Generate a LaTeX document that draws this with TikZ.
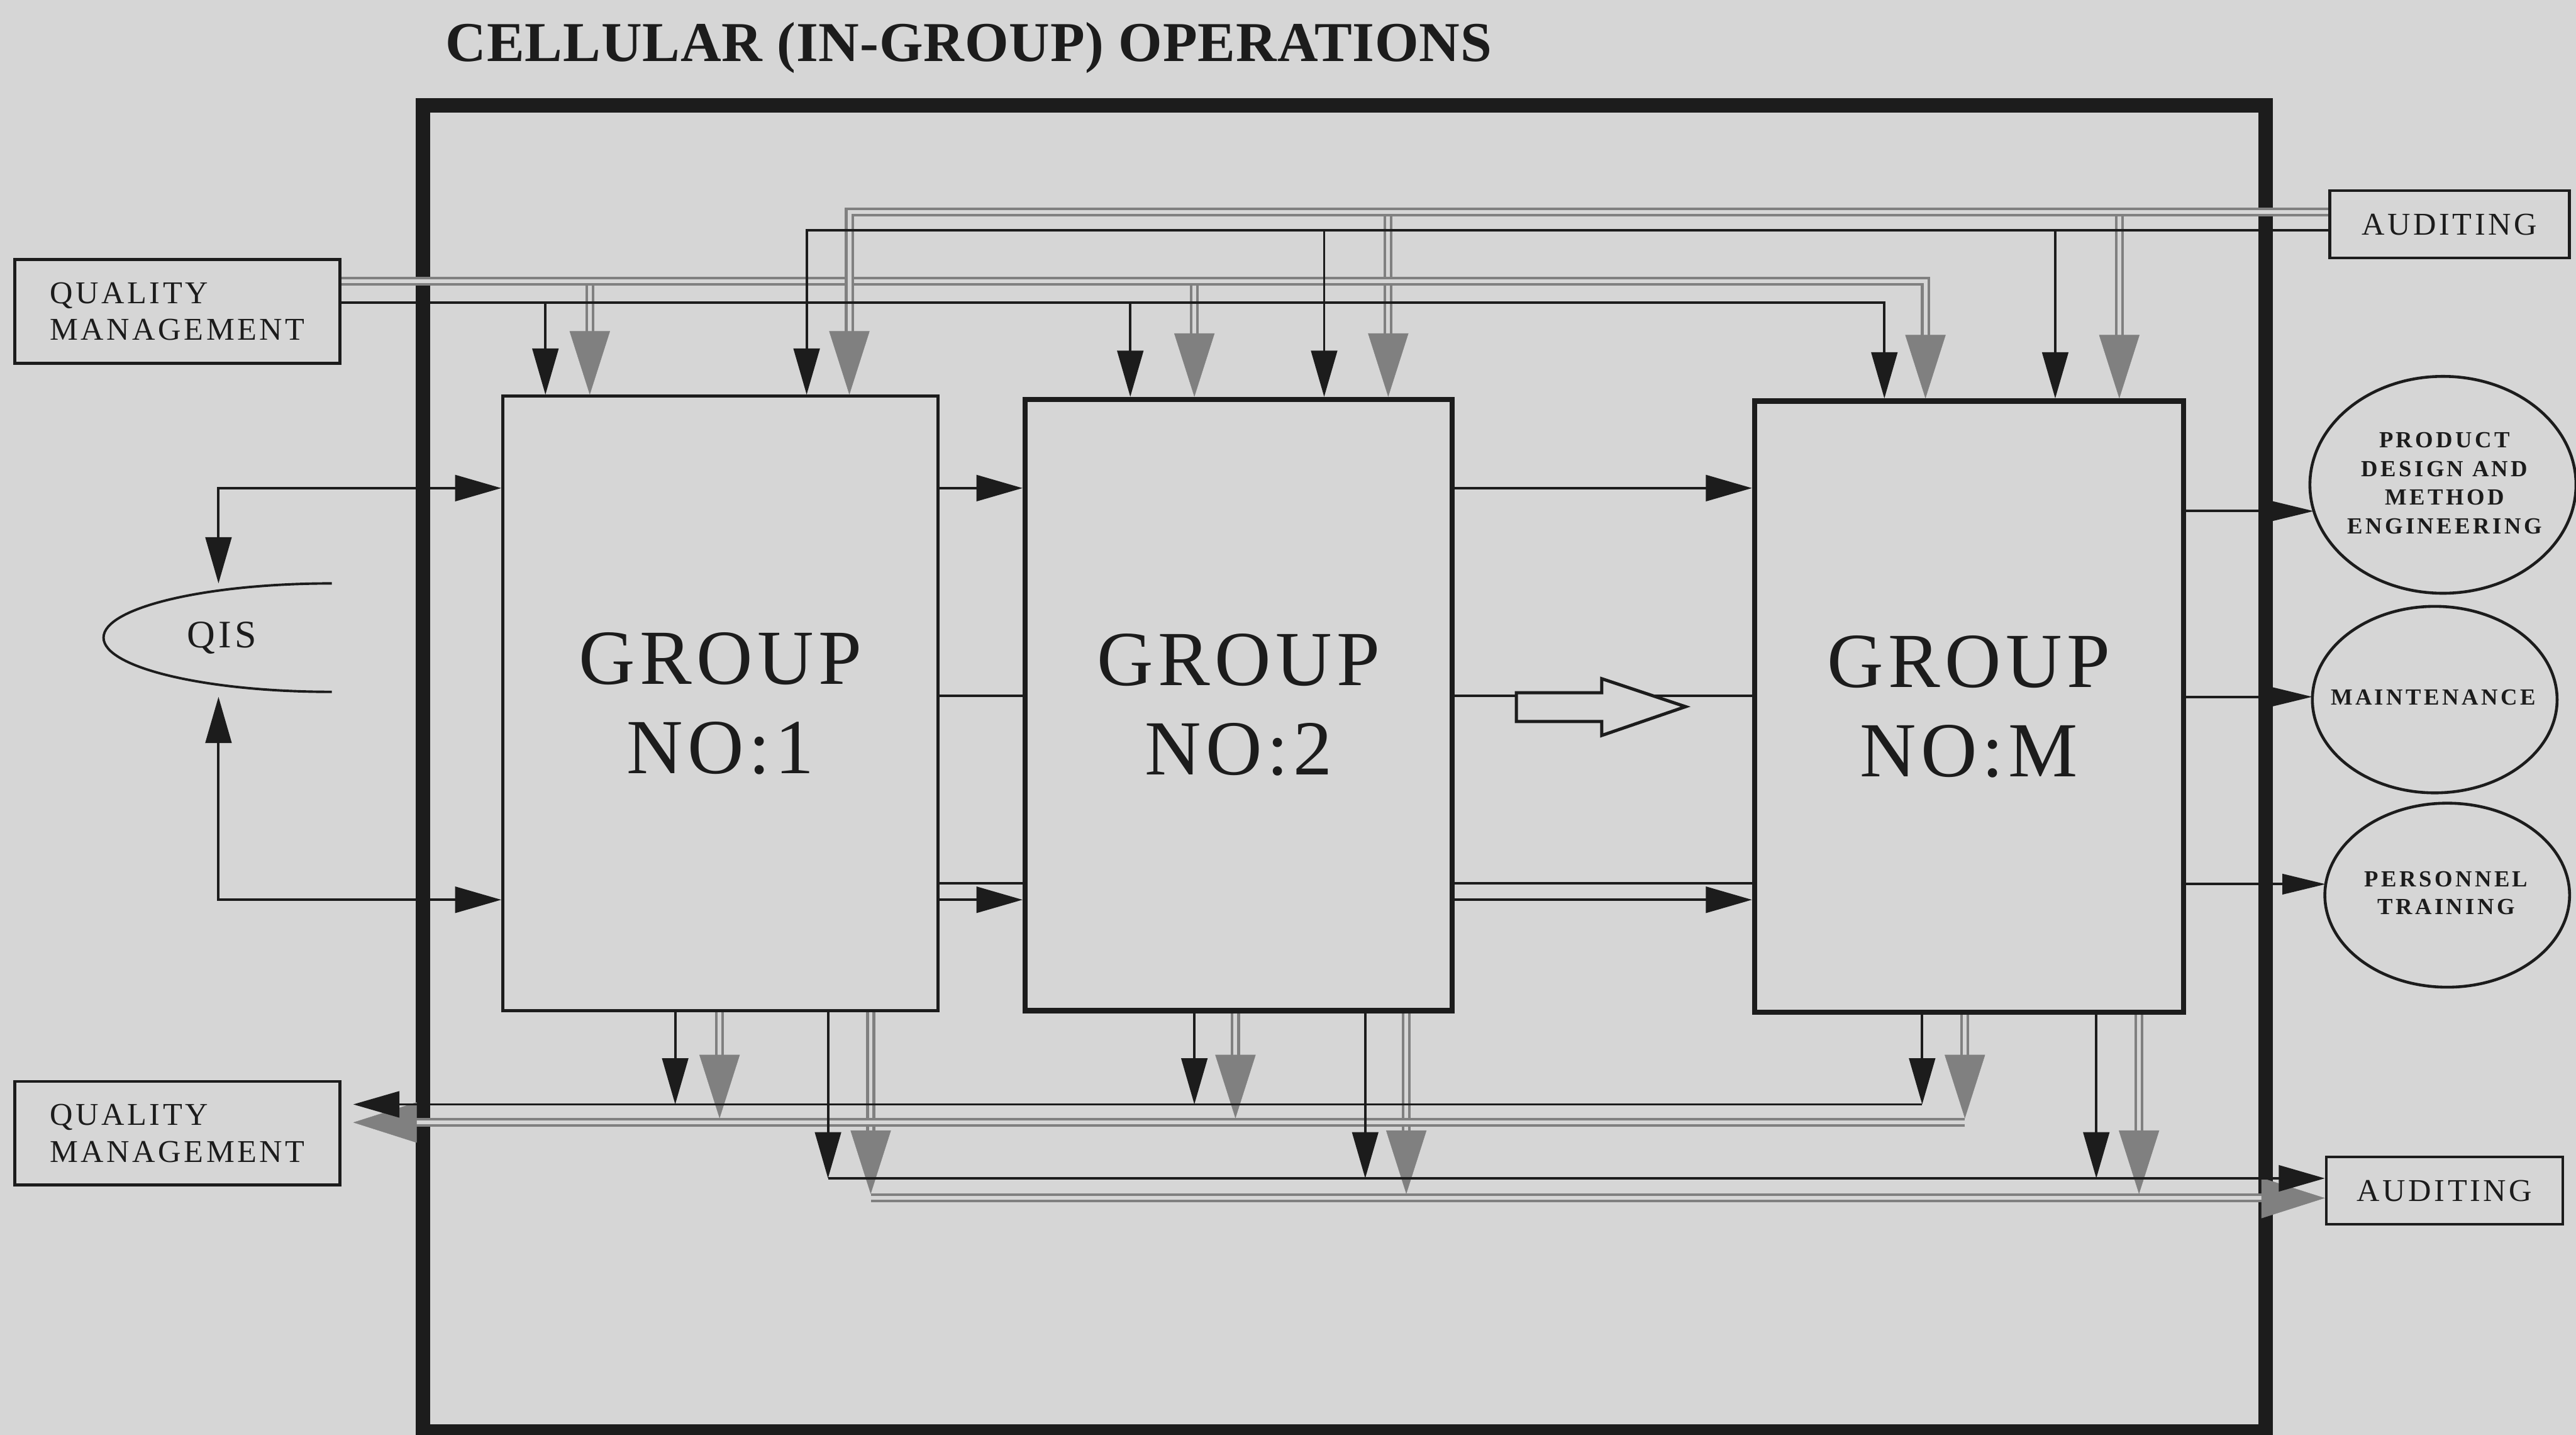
\documentclass[tikz,border=0pt]{standalone}
\usepackage{fontspec}
\setmainfont{Liberation Serif}
\usetikzlibrary{arrows.meta,shapes.geometric}
\definecolor{bg}{RGB}{214,214,214}
\definecolor{gcol}{RGB}{128,128,128}
\definecolor{ink}{RGB}{28,28,28}
\tikzset{
  bh/.tip={Triangle[length=16pt,width=9pt]},
  gh/.tip={Triangle[length=22pt,width=14pt,color=gcol]},
  rh/.tip={Triangle[length=15pt,width=7pt]},
  bl/.style={draw=ink, line width=0.85pt},
  gline/.style={draw=gcol, double=bg, line width=0.9pt, double distance=1.3pt, shorten >=16pt},
  gtip/.style={draw=bg, line width=0.1pt, -{gh}},
  box/.style={draw=ink, line width=1pt, rectangle, inner sep=0pt, text=ink, align=left,
    font=\fontsize{11pt}{12.8pt}\selectfont\addfontfeatures{LetterSpace=9}},
  grp/.style={draw=ink, rectangle, inner sep=0pt, text=ink, align=center,
    font=\fontsize{27pt}{31pt}\selectfont\addfontfeatures{LetterSpace=6}},
  ell/.style={draw=ink, ellipse, line width=1pt, inner sep=0pt},
  etext/.style={align=center, text=ink, inner sep=0pt,
    font=\bfseries\fontsize{8pt}{10pt}\selectfont\addfontfeatures{LetterSpace=12}},
}
\newcommand\garr[1]{\draw[gline] #1; \draw[gtip] #1;}
\begin{document}
\begin{tikzpicture}[x=0.02cm, y=-0.02cm]
\fill[bg] (0,0) rectangle (1568,873);
\useasboundingbox (0,0) rectangle (1568,873);

% title
\node[anchor=base west, inner sep=0pt, text=ink,
  font=\bfseries\fontsize{19.5pt}{22pt}\selectfont\addfontfeatures{LetterSpace=1}]
  (title) at (271,37.5) {CELLULAR (IN-GROUP) OPERATIONS};

% outer cell frame
\draw[draw=ink, line width=5pt] (257.5,64) rectangle (1379,871);

% boxes
\node[box, minimum width=3.96cm, minimum height=1.26cm] (qm1) at (108,189.5) {QUALITY\\MANAGEMENT};
\node[box, minimum width=3.96cm, minimum height=1.26cm] (qm2) at (108,689.5) {QUALITY\\MANAGEMENT};
\node[box, minimum width=2.92cm, minimum height=0.82cm] (aud1) at (1491,136.5) {AUDITING};
\node[box, minimum width=2.88cm, minimum height=0.82cm] (aud2) at (1488,724.5) {AUDITING};

% groups
\node[grp, line width=1pt, minimum width=5.3cm, minimum height=7.48cm] (g1) at (438.5,428) {GROUP\\NO:1};
\node[grp, line width=1.8pt, minimum width=5.2cm, minimum height=7.44cm] (g2) at (754,429) {GROUP\\NO:2};
\node[grp, line width=1.8pt, minimum width=5.22cm, minimum height=7.44cm] (gM) at (1198.5,430) {GROUP\\NO:M};

% ellipses
\node[ell, minimum width=3.24cm, minimum height=2.64cm] (pde) at (1487,295) {};
\node[etext] (pdeT) at (1488,294) {PRODUCT\\DESIGN AND\\METHOD\\ENGINEERING};
\node[ell, minimum width=2.98cm, minimum height=2.27cm] (mnt) at (1482,425.7) {};
\node[etext] (mntT) at (1481,424.5) {MAINTENANCE};
\node[ell, minimum width=2.98cm, minimum height=2.24cm] (per) at (1489.6,544.7) {};
\node[etext, font=\bfseries\fontsize{8pt}{9.5pt}\selectfont\addfontfeatures{LetterSpace=12}] (perT) at (1489,543.5) {PERSONNEL\\TRAINING};

% QIS
\node[inner sep=0pt, text=ink, font=\fontsize{13.5pt}{16pt}\selectfont\addfontfeatures{LetterSpace=8}] (qis) at (135,388) {QIS};
\coordinate (qisArc) at (202,355);
\draw[bl] (qisArc) arc[start angle=90, end angle=270, x radius=2.78cm, y radius=0.66cm];
\coordinate (qisT) at (133,355);
\coordinate (qisB) at (133,424);

% named points
\coordinate (qb1) at (332,184);
\coordinate (qb2) at (688,184);
\coordinate (qbc) at (1147,184);
\coordinate (qg1) at (359,171);
\coordinate (qg2) at (727,171);
\coordinate (qgc) at (1172,171);
\coordinate (abc) at (491,140);
\coordinate (ab2) at (806,140);
\coordinate (ab3) at (1251,140);
\coordinate (agc) at (517,129);
\coordinate (ag2) at (845,129);
\coordinate (ag3) at (1290,129);
\coordinate (bq1) at (411,672);
\coordinate (bq2) at (727,672);
\coordinate (bq3) at (1170,672);
\coordinate (gq1) at (438,680.5);
\coordinate (gq2) at (752,680.5);
\coordinate (gq3) at (1196,680.5);
\coordinate (gqc) at (1196,683);
\coordinate (ba1) at (504,717);
\coordinate (ba2) at (831,717);
\coordinate (ba3) at (1276,717);
\coordinate (ga1) at (530,726.5);
\coordinate (ga2) at (856,726.5);
\coordinate (ga3) at (1302,726.5);
\coordinate (gac) at (530,729);
\coordinate (qmInB) at (215,672);
\coordinate (qmInG) at (215,683);
\coordinate (rA) at (0,297);
\coordinate (rB) at (0,423.5);
\coordinate (rC) at (0,537.5);
\coordinate (rD) at (0,547.5);
\coordinate (pdeIn) at (1408.4,311);
\coordinate (mntIn) at (1407.5,424);
\coordinate (perIn) at (1415.6,538);

% gray (double) flows: drops first, then buses
\garr{(qg1) -- (qg1 |- g1.north)}
\garr{(qg2) -- (qg2 |- g2.north)}
\garr{(ag2) -- (ag2 |- g2.north)}
\garr{(ag3) -- (ag3 |- gM.north)}
\garr{(qm1.east |- qgc) -- (qgc) -- (qgc |- gM.north)}
\garr{(aud1.west |- agc) -- (agc) -- (agc |- g1.north)}
\garr{(gq1 |- g1.south) -- (gq1)}
\garr{(gq2 |- g2.south) -- (gq2)}
\garr{(gq3 |- gM.south) -- (gq3)}
\garr{(ga1 |- g1.south) -- (ga1)}
\garr{(ga2 |- g2.south) -- (ga2)}
\garr{(ga3 |- gM.south) -- (ga3)}
\garr{(gqc) -- (qmInG)}
\garr{(gac) -- (aud2.west |- gac)}

% black flows top
\draw[bl,-{bh}] (qm1.east |- qbc) -- (qbc) -- (qbc |- gM.north);
\draw[bl,-{bh}] (qb1) -- (qb1 |- g1.north);
\draw[bl,-{bh}] (qb2) -- (qb2 |- g2.north);
\draw[bl,-{bh}] (aud1.west |- abc) -- (abc) -- (abc |- g1.north);
\draw[bl,-{bh}] (ab2) -- (ab2 |- g2.north);
\draw[bl,-{bh}] (ab3) -- (ab3 |- gM.north);

% black flows bottom
\draw[bl,-{bh}] (bq1 |- g1.south) -- (bq1);
\draw[bl,-{bh}] (bq2 |- g2.south) -- (bq2);
\draw[bl,-{bh}] (bq3 |- gM.south) -- (bq3);
\draw[bl,-{bh}] (bq3) -- (qmInB);
\draw[bl,-{bh}] (ba1 |- g1.south) -- (ba1);
\draw[bl,-{bh}] (ba2 |- g2.south) -- (ba2);
\draw[bl,-{bh}] (ba3 |- gM.south) -- (ba3);
\draw[bl,-{bh}] (ba1) -- (aud2.west |- ba1);

% between groups
\draw[bl,-{bh}] (g1.east |- rA) -- (g2.west |- rA);
\draw[bl] (g1.east |- rB) -- (g2.west |- rB);
\draw[bl] (g1.east |- rC) -- (g2.west |- rC);
\draw[bl,-{bh}] (g1.east |- rD) -- (g2.west |- rD);
\draw[bl,-{bh}] (g2.east |- rA) -- (gM.west |- rA);
\draw[bl] (g2.east |- rB) -- (gM.west |- rB);
\draw[bl] (g2.east |- rC) -- (gM.west |- rC);
\draw[bl,-{bh}] (g2.east |- rD) -- (gM.west |- rD);
\draw[draw=ink, line width=1.1pt, fill=bg] (923,421.5) -- (975,421.5) -- (975,413) -- (1026,430)
  -- (975,447.5) -- (975,439) -- (923,439) -- cycle;

% QIS links
\draw[bl,{bh}-{bh}] (qisT) -- (qisT |- rA) -- (g1.west |- rA);
\draw[bl,{bh}-{bh}] (qisB) -- (qisB |- rD) -- (g1.west |- rD);

% outputs to ellipses
\draw[bl,-{rh}] (gM.east |- pdeIn) -- (pdeIn);
\draw[bl,-{rh}] (gM.east |- mntIn) -- (mntIn);
\draw[bl,-{rh}] (gM.east |- perIn) -- (perIn);
\end{tikzpicture}
\end{document}
